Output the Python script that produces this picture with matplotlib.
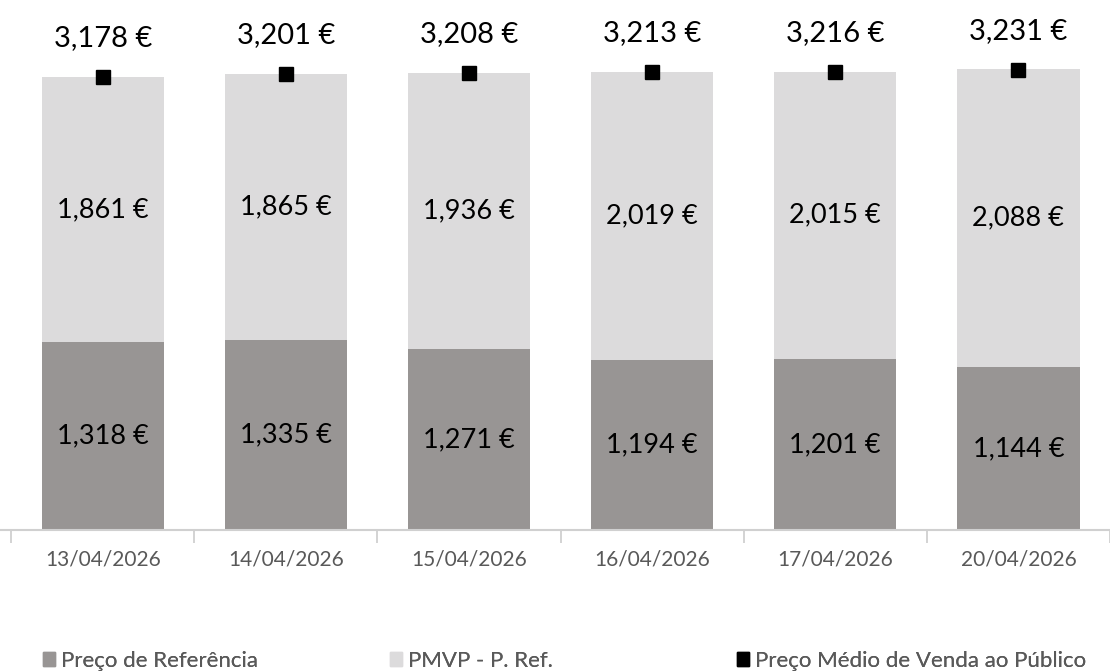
import matplotlib
matplotlib.use("Agg")
import matplotlib.pyplot as plt
import numpy as np
from matplotlib.patches import Patch

# dados
datas = ["13/04/2026", "14/04/2026", "15/04/2026", "16/04/2026", "17/04/2026", "20/04/2026"]
preco_referencia = [1.318, 1.335, 1.271, 1.194, 1.201, 1.144]
pmvp_menos_ref = [1.861, 1.865, 1.936, 2.019, 2.015, 2.088]
pmvp = [3.178, 3.201, 3.208, 3.213, 3.216, 3.231]

cor_escura = "#989594"
cor_clara = "#dcdbdc"

plt.rcParams["font.family"] = ["Lato", "DejaVu Sans"]

fig = plt.figure(figsize=(11.1, 6.72), dpi=100)
ax = fig.add_axes([0, 142 / 672, 1, 530 / 672])

x = np.arange(len(datas))
largura = 0.667
passo = 184.5  # px por categoria

ax.bar(x, preco_referencia, largura, color=cor_escura)
ax.bar(x, pmvp_menos_ref, largura, bottom=preco_referencia, color=cor_clara)
ax.plot(x, pmvp, linestyle="none", marker="s", markersize=10, color="black")

def fmt(v):
    return f"{v:,.3f} €".replace(".", ",")

for i in range(len(datas)):
    ax.text(x[i], preco_referencia[i] / 2, fmt(preco_referencia[i]),
            ha="center", va="center", fontsize=19.5, color="black")
    ax.text(x[i], preco_referencia[i] + pmvp_menos_ref[i] / 2, fmt(pmvp_menos_ref[i]),
            ha="center", va="center", fontsize=19.5, color="black")
    ax.annotate(fmt(pmvp[i]), (x[i], pmvp[i]), xytext=(0, 28), textcoords="offset points",
                ha="center", va="center", fontsize=21, color="black")

ax.set_xlim(-103.5 / passo, (1110 - 103.5) / passo)
ax.set_ylim(0, 530 / 142.5)

ax.set_xticks(x)
ax.set_xticklabels(datas, fontsize=15, color="#595959")
ax.tick_params(axis="x", which="major", length=0, pad=14)
ax.set_xticks(np.arange(-0.5, len(datas), 1), minor=True)
ax.tick_params(axis="x", which="minor", length=9, width=1.3, color="#d0d0d0")
ax.set_yticks([])
for s in ["top", "right", "left"]:
    ax.spines[s].set_visible(False)
ax.spines["bottom"].set_color("#d0d0d0")
ax.spines["bottom"].set_linewidth(1.5)

# legenda
itens = [
    (Patch(color=cor_escura), "Preço de Referência", 43),
    (Patch(color=cor_clara), "PMVP - P. Ref.", 390),
    (Patch(color="black"), "Preço Médio de Venda ao Público", 737),
]
for h, txt, px in itens:
    leg = fig.legend([h], [txt], loc="center left", bbox_to_anchor=(px / 1110, 1 - 661 / 672),
                     frameon=False, prop={"size": 16},
                     handlelength=0.55, handleheight=0.55,
                     handletextpad=0.25, borderaxespad=0, borderpad=0, labelcolor="#595959")
    fig.add_artist(leg)

fig.savefig("out.png", dpi=100)
